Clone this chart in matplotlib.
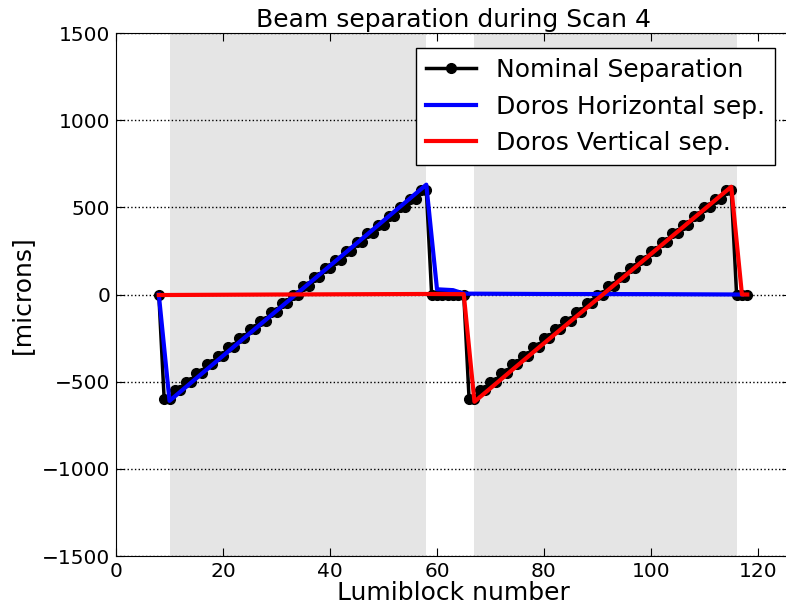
import matplotlib
matplotlib.use("Agg")
import matplotlib.pyplot as plt

# nominal separation, one point per lumiblock (8..118)
nominal_lb = list(range(8, 119))
nominal_sep = [0,
               -600, -600, -550, -550, -500, -500, -450, -450, -400, -400,
               -350, -350, -300, -300, -250, -250, -200, -200, -150, -150,
               -100, -100, -50, -50, 0, 0, 50, 50, 100, 100,
               150, 150, 200, 200, 250, 250, 300, 300, 350, 350,
               400, 400, 450, 450, 500, 500, 550, 550, 600, 600,
               0, 0, 0, 0, 0, 0, 0,
               -600, -600, -550, -550, -500, -500, -450, -450, -400, -400,
               -350, -350, -300, -300, -250, -250, -200, -200, -150, -150,
               -100, -100, -50, -50, 0, 0, 50, 50, 100, 100,
               150, 150, 200, 200, 250, 250, 300, 300, 350, 350,
               400, 400, 450, 450, 500, 500, 550, 550, 600, 600,
               0, 0, 0]

# DOROS measurements
doros_h_lb = [8, 10, 22, 34, 46, 58, 60, 63, 65, 80, 100, 117]
doros_h = [0, -610, -300, 10, 320, 630, 30, 25, 5, 3, 2, 0]

doros_v_lb = [8, 30, 58, 65, 67, 79, 91, 103, 115, 117, 118]
doros_v = [-3, 0, 3, 2, -615, -305, 0, 310, 618, 0, 0]

scan_spans = [(10, 58), (67, 116)]

fig = plt.figure(figsize=(7.86, 6.10), dpi=100)
ax = fig.add_axes([0.1476, 0.0885, 0.8576, 0.8574])

for a, b in scan_spans:
    ax.axvspan(a, b, color='#e5e5e5', lw=0, zorder=0)

ax.plot(nominal_lb, nominal_sep, color='black', lw=2.5, marker='o', ms=7,
        label='Nominal Separation', zorder=2)
ax.plot(doros_h_lb, doros_h, color='blue', lw=3,
        label='Doros Horizontal sep.', zorder=3)
ax.plot(doros_v_lb, doros_v, color='red', lw=3,
        label='Doros Vertical sep.', zorder=3)

ax.set_xlim(0, 126)
ax.set_ylim(-1500, 1500)
ax.set_xticks([0, 20, 40, 60, 80, 100, 120])
ax.set_yticks([-1500, -1000, -500, 0, 500, 1000, 1500])
ax.yaxis.grid(True, color='black', linestyle=':', lw=1)
ax.tick_params(direction='in', top=True, right=True, labelsize=14.5,
               length=6, pad=4)

ax.set_title('Beam separation during Scan 4', fontsize=18, pad=4)
ax.set_xlabel('Lumiblock number', fontsize=18, labelpad=0)
ax.set_ylabel('[microns]', fontsize=18, labelpad=6)

leg = ax.legend(loc='upper right', fontsize=18, fancybox=False,
                framealpha=1, edgecolor='black', borderaxespad=0.6,
                handlelength=2.0, labelspacing=0.5, borderpad=0.4)
leg.get_frame().set_linewidth(1)

fig.savefig('out.png', dpi=100)
